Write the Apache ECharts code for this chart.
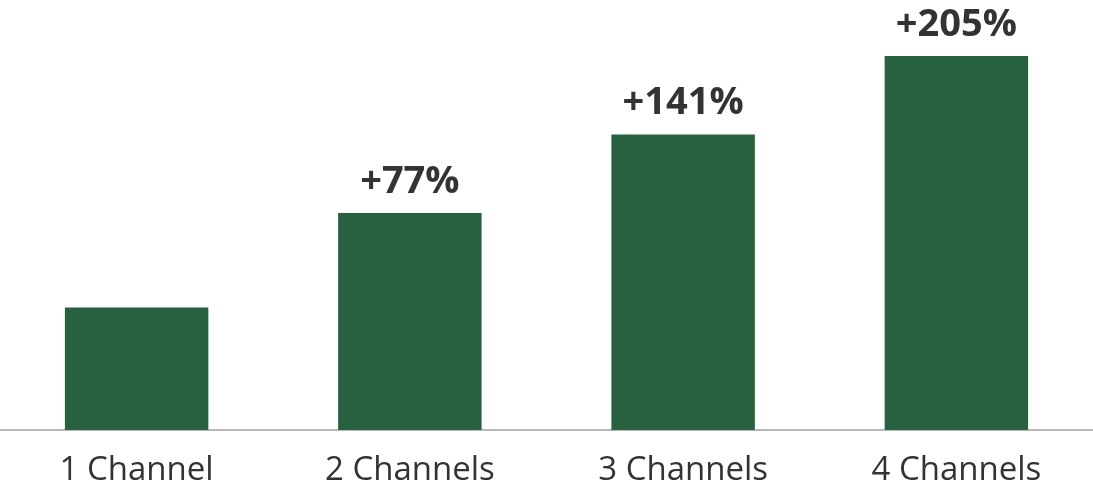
<!DOCTYPE html>
<html>
<head>
<meta charset="utf-8">
<script src="https://cdn.jsdelivr.net/npm/echarts@6/dist/echarts.min.js"></script>
<style>
  html, body { margin: 0; padding: 0; background: #ffffff; }
  #chart { width: 1093px; height: 488px; }
</style>
</head>
<body>
<div id="chart"></div>
<script>
// Relative reach by number of channels (1 channel = 100)
const categories = ['1 Channel', '2 Channels', '3 Channels', '4 Channels'];
const values = [100, 177, 241, 305];
const upliftLabels = ['', '+77%', '+141%', '+205%'];

const chart = echarts.init(document.getElementById('chart'), null, { renderer: 'canvas' });

chart.setOption({
  animation: false,
  grid: { left: 0, right: 0, top: 56, bottom: 58, containLabel: false },
  xAxis: {
    type: 'category',
    data: categories,
    axisLine: { show: true, lineStyle: { color: '#b8b8b8', width: 2 } },
    axisTick: { show: false },
    axisLabel: {
      color: '#333333',
      fontFamily: 'Open Sans',
      fontSize: 33,
      margin: 24
    }
  },
  yAxis: {
    type: 'value',
    min: 0,
    max: 305,
    show: false,
    splitLine: { show: false }
  },
  series: [{
    type: 'bar',
    data: values,
    barWidth: '52.5%',
    itemStyle: { color: '#28613f' },
    label: {
      show: true,
      position: 'top',
      distance: 12,
      color: '#333333',
      fontFamily: 'Open Sans',
      fontWeight: 'bold',
      fontSize: 38,
      formatter: p => upliftLabels[p.dataIndex]
    }
  }]
});
</script>
</body>
</html>
